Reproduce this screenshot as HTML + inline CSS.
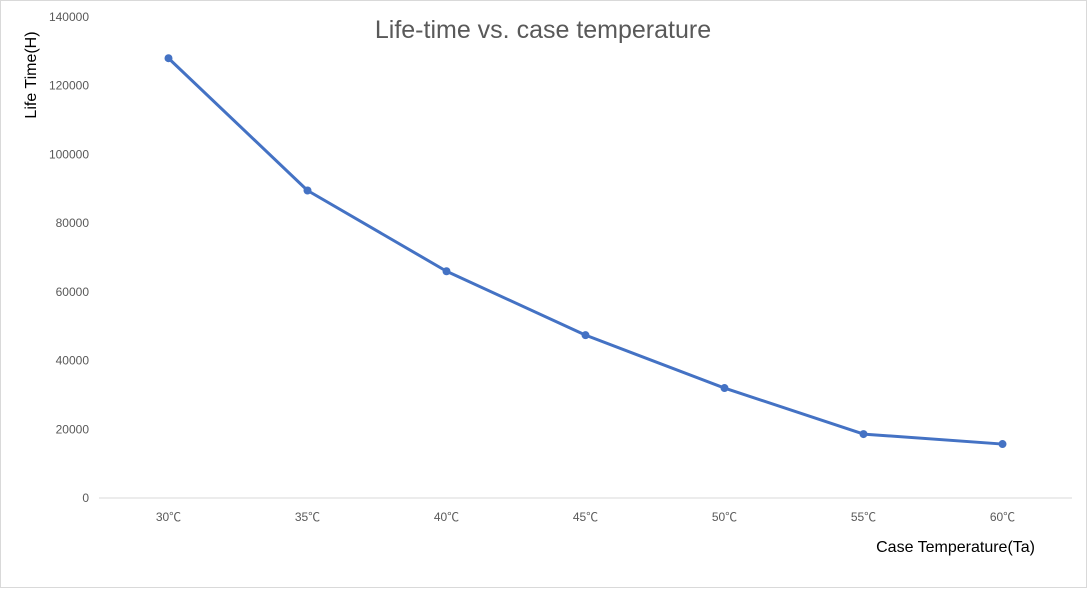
<!DOCTYPE html>
<html><head><meta charset="utf-8"><style>
html,body{margin:0;padding:0;background:#fff;}
svg{display:block;font-family:"Liberation Sans","Noto Sans CJK SC",sans-serif;}
</style></head><body>
<svg id="chart" width="1088" height="591">
<rect x="0.5" y="0.5" width="1086" height="587" fill="#fff" stroke="#d9d9d9"/>
<text x="543" y="38" text-anchor="middle" font-size="25" fill="#595959">Life-time vs. case temperature</text>
<text transform="translate(36,75) rotate(-90)" text-anchor="middle" font-size="16" fill="#000">Life Time(H)</text>
<text x="1035" y="552" text-anchor="end" font-size="16" fill="#000">Case Temperature(Ta)</text>
<g id="yticks"></g><g id="xticks"></g><g id="plot"></g>
</svg>
<script>
const categories = ["30℃","35℃","40℃","45℃","50℃","55℃","60℃"];
const lifeValues = [128000, 89500, 66000, 47400, 32000, 18600, 15700];
const yTicks = [0, 20000, 40000, 60000, 80000, 100000, 120000, 140000];
const NS = "http://www.w3.org/2000/svg";
const x0 = 99, x1 = 1072, yBase = 498, yTop = 17, yMax = 140000;
const step = (x1 - x0) / categories.length;
function xPos(i){ return x0 + step * (i + 0.5); }
function yPos(v){ return yBase - (v / yMax) * (yBase - yTop); }
function mk(tag, attrs, parent){ const e = document.createElementNS(NS, tag); for (const k in attrs) e.setAttribute(k, attrs[k]); parent.appendChild(e); return e; }
const yg = document.getElementById("yticks"), xg = document.getElementById("xticks"), pg = document.getElementById("plot");
yTicks.forEach(v => {
  const t = mk("text", {x: 89, y: yPos(v) + 4, "text-anchor": "end", "font-size": 12, fill: "#595959"}, yg);
  
  
  t.textContent = v;
});
const base = mk("line", {x1: x0, x2: x1, y1: yBase, y2: yBase, stroke: "#d9d9d9", "stroke-width": 1}, pg);


categories.forEach((c, i) => {
  const t = mk("text", {x: xPos(i), y: 521, "text-anchor": "middle", "font-size": 12, fill: "#595959"}, xg);
  
  
  t.textContent = c;
});
const pts = lifeValues.map((v, i) => xPos(i) + "," + yPos(v)).join(" ");
const line = mk("polyline", {points: pts, fill: "none", stroke: "#4472c4", "stroke-width": 3, "stroke-linejoin": "round"}, pg);


lifeValues.forEach((v, i) => {
  const c = mk("circle", {cx: xPos(i), cy: yPos(v), r: 4, fill: "#4472c4"}, pg);
  
  
});
</script>
</body></html>
